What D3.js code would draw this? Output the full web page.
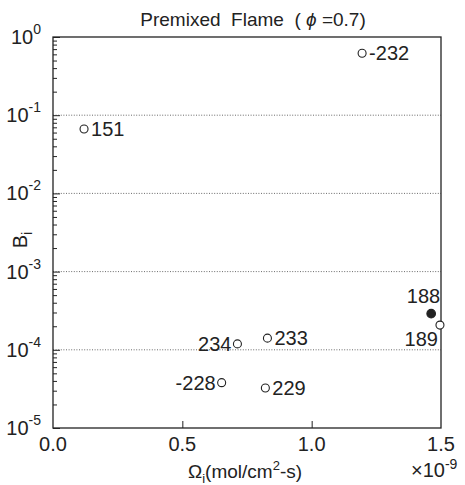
<!DOCTYPE html>
<html><head><meta charset="utf-8">
<script src="https://cdnjs.cloudflare.com/ajax/libs/d3/7.8.5/d3.min.js"></script>
<style>body{margin:0;background:#fff}svg{display:block;font-family:"Liberation Sans",Arial,sans-serif}</style>
</head><body><svg id="c" width="465" height="485"></svg>
<script>
const reactions = ["151","-232","234","233","-228","229","188","189"];
const omega = [0.12, 1.195, 0.713, 0.829, 0.652, 0.821, 1.462, 1.496];   // x 1e-9 mol/cm2-s
const B = [0.0667, 0.62, 1.19e-4, 1.41e-4, 3.8e-5, 3.25e-5, 2.9e-4, 2.07e-4];
const filled = [false,false,false,false,false,false,true,false];
const xTicks = [0.0, 0.5, 1.0, 1.5];
const yTickExp = [0,-1,-2,-3,-4,-5];

// label placement (layout only)
const labelPos = ["right","right","left","right","left","right","above","below"];

const svg = d3.select("#c");
const L=53, R=441, T=37, Bt=428;
const x = d3.scaleLinear().domain([0,1.5]).range([L,R]);
const y = d3.scaleLog().domain([1e-5,1]).range([Bt,T]);
const ink="#222";

// gridlines
svg.append("g").selectAll("line").data([-1,-2,-3,-4]).join("line")
  .attr("x1",L).attr("x2",R).attr("y1",d=>y(Math.pow(10,d))).attr("y2",d=>y(Math.pow(10,d)))
  .attr("stroke","#444").attr("stroke-width",0.8).attr("stroke-dasharray","1,1.6");

// frame
svg.append("rect").attr("x",L).attr("y",T).attr("width",R-L).attr("height",Bt-T)
  .attr("fill","none").attr("stroke",ink).attr("stroke-width",1.3);

// left axis ticks (inward)
const minor=[];
for(let e=-5;e<0;e++) for(let m=2;m<=9;m++) minor.push(m*Math.pow(10,e));
const gl = svg.append("g").attr("transform",`translate(${L},0)`);
gl.call(d3.axisRight(y).tickValues(minor).tickSize(4).tickFormat(""));
gl.append("g").call(d3.axisRight(y).tickValues(yTickExp.map(e=>Math.pow(10,e))).tickSize(7).tickFormat(""));
gl.selectAll(".domain").remove();
gl.selectAll("line").attr("stroke",ink).attr("stroke-width",1);

// y tick labels
const yl = svg.append("g");
yTickExp.forEach(e=>{
  const t = yl.append("text").attr("x",41).attr("y",y(Math.pow(10,e))+7)
    .attr("text-anchor","end").attr("font-size",20).attr("fill",ink);
  t.append("tspan").text("10");
  t.append("tspan").attr("font-size",14).attr("dy",-10).text(String(e));
});

// bottom ticks (inward) and labels
const gb = svg.append("g").attr("transform",`translate(0,${Bt})`);
gb.call(d3.axisTop(x).tickValues([0.5,1.0]).tickSize(7).tickFormat(""));
gb.selectAll(".domain").remove();
gb.selectAll("line").attr("stroke",ink);
svg.append("g").selectAll("text").data(xTicks).join("text")
  .attr("x",d=>x(d)).attr("y",Bt+23).attr("text-anchor","middle")
  .attr("font-size",20).attr("fill",ink).text(d=>d.toFixed(1));

// x multiplier
const mult = svg.append("text").attr("x",411).attr("y",477).attr("font-size",20).attr("fill",ink);
mult.append("tspan").text("\u00d710");
mult.append("tspan").attr("font-size",14).attr("dy",-8).text("-9");

// x axis title
const xt = svg.append("text").attr("x",245).attr("y",478).attr("text-anchor","middle").attr("font-size",19).attr("fill",ink);
xt.append("tspan").text("\u03a9");
xt.append("tspan").attr("font-size",13).attr("dy",5).text("i");
xt.append("tspan").attr("dy",-5).text("(mol/cm");
xt.append("tspan").attr("font-size",13).attr("dy",-8).text("2");
xt.append("tspan").attr("dy",8).text("-s)");

// y axis title
const yt = svg.append("text").attr("transform","translate(27,240) rotate(-90)").attr("text-anchor","middle").attr("font-size",20).attr("fill",ink);
yt.append("tspan").text("B");
yt.append("tspan").attr("font-size",14).attr("dy",5).text("i");

// title
const tt = svg.append("text").attr("x",253).attr("y",26).attr("text-anchor","middle").attr("font-size",19).attr("fill",ink);
tt.append("tspan").text("Premixed\u00a0 Flame\u00a0 (\u00a0");
tt.append("tspan").attr("font-style","italic").text("\u03d5");
tt.append("tspan").text("\u00a0=0.7)");

// points
const pts = reactions.map((r,i)=>({r, x:omega[i], y:B[i], f:filled[i], p:labelPos[i]}));
svg.append("g").selectAll("circle").data(pts).join("circle")
  .attr("cx",d=>x(d.x)).attr("cy",d=>y(d.y)).attr("r",d=>d.f?4.3:4)
  .attr("fill",d=>d.f?ink:"#fff").attr("stroke",ink).attr("stroke-width",1.1);

svg.append("g").selectAll("text").data(pts).join("text")
  .attr("font-size",20).attr("fill",ink)
  .attr("x",d=>{const cx=x(d.x); if(d.p==="right") return cx+7; if(d.p==="left") return cx-6; if(d.p==="below") return cx-2; return cx+9;})
  .attr("y",d=>{const cy=y(d.y); if(d.p==="above") return cy-11; if(d.p==="below") return cy+21; return cy+7;})
  .attr("text-anchor",d=>d.p==="right"?"start":"end")
  .text(d=>d.r);
</script></body></html>
